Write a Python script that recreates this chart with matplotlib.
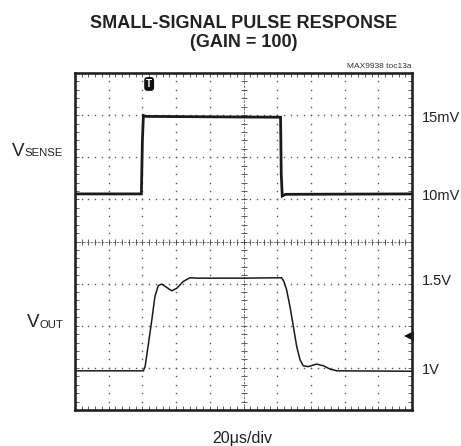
import numpy as np
import matplotlib
matplotlib.use("Agg")
import matplotlib.pyplot as plt

plt.rcParams['font.family'] = ['Liberation Sans', 'DejaVu Sans']

# ---------------------------------------------------------------------------
# Data (screen divisions: x 0..10 at 20us/div, y 0..8)
# ---------------------------------------------------------------------------
t_sense = [0, 1.97, 2.00, 2.03, 2.10, 4.0, 6.10, 6.12, 6.15, 6.25, 10]
v_sense = [5.13, 5.13, 6.40, 6.99, 6.97, 6.96, 6.95, 5.60, 5.08, 5.12, 5.13]

t_out = [0, 2.03, 2.08, 2.18, 2.28, 2.37, 2.47, 2.57, 2.72, 2.87, 3.02, 3.21,
         3.41, 3.61, 5.0, 6.13, 6.20, 6.28, 6.38, 6.48, 6.58, 6.68, 6.77,
         6.92, 7.17, 7.37, 7.57, 7.77, 10]
v_out = [0.93, 0.93, 1.03, 1.58, 2.14, 2.69, 2.95, 2.99, 2.91, 2.83, 2.89, 3.05,
         3.14, 3.13, 3.13, 3.14, 3.05, 2.85, 2.45, 1.98, 1.50, 1.19, 1.05,
         1.03, 1.09, 1.05, 0.97, 0.93, 0.92]

right_labels = ["15mV", "10mV", "1.5V", "1V"]
right_label_y = [122, 200.5, 285, 374]   # baselines, px from top

W, H = 461, 446

fig = plt.figure(figsize=(W / 100, H / 100), dpi=100)
ax = fig.add_axes([75 / W, 36 / H, 337 / W, 337 / H])
ax.set_xlim(0, 10)
ax.set_ylim(0, 8)

# frame + inner ticks
for sp in ax.spines.values():
    sp.set_linewidth(1.9)
    sp.set_color('#222222')
ax.set_xticks(np.arange(0, 10.01, 1))
ax.set_yticks(np.arange(0, 8.01, 1))
ax.set_xticks(np.arange(0, 10.01, 0.2), minor=True)
ax.set_yticks(np.arange(0, 8.01, 0.2), minor=True)
ax.tick_params(which='both', direction='in', length=3, width=0.6, color='#444444',
               top=True, right=True, labelbottom=False, labelleft=False)

# dotted graticule
dots_x = np.arange(0.2, 10, 0.2)
dots_y = np.arange(0.2, 8, 0.2)
for gy in range(1, 8):
    if gy == 4:
        continue
    ax.plot(dots_x, np.full_like(dots_x, gy), ls='none', marker='s', ms=1.0,
            color='#555555', mew=0)
for gx in range(1, 10):
    if gx == 5:
        continue
    ax.plot(np.full_like(dots_y, gx), dots_y, ls='none', marker='s', ms=1.0,
            color='#555555', mew=0)

# centre lines with cross ticks
ax.axhline(4, color='#666666', lw=0.6, ls=(0, (3, 1.5)))
ax.axvline(5, color='#666666', lw=0.6, ls=(0, (3, 1.5)))
ax.plot(dots_x, np.full_like(dots_x, 4), ls='none', marker='|', ms=4, mew=0.6,
        color='#444444')
ax.plot(np.full_like(dots_y, 5), dots_y, ls='none', marker='_', ms=4, mew=0.6,
        color='#444444')

# traces
ax.plot(t_sense, v_sense, color='#1a1a1a', lw=2.0, solid_joinstyle='miter')
ax.plot(t_out, v_out, color='#1a1a1a', lw=1.1)

# trigger marker and level marker
ax.text(2.2, 7.74, "T", ha='center', va='center', color='white', fontsize=7,
        fontweight='bold',
        bbox=dict(boxstyle='round,pad=0.2,rounding_size=0.35', fc='#111111', ec='none'))
ax.plot([9.9], [1.76], marker='<', ms=6.5, color='#111111', mew=0, clip_on=False)


def ftext(x, y, s, **kw):
    return fig.text(x / W, 1 - y / H, s, **kw)


ftext(243.5, 28.3, "SMALL-SIGNAL PULSE RESPONSE", ha='center', va='baseline',
      fontsize=13, fontweight='bold', color='#222222')
ftext(243.5, 47, "(GAIN = 100)", ha='center', va='baseline',
      fontsize=13, fontweight='bold', color='#222222')
ftext(411, 68.3, "MAX9938 toc13a", ha='right', va='baseline', fontsize=6,
      color='#333333')

# V with subscript: subscript right-aligned at the frame gap, V placed just before it
renderer = fig.canvas.get_renderer()
for sub, yb in [("SENSE", 155.5), ("OUT", 327)]:
    st = ftext(63, yb + 0.5, sub, ha='right', va='baseline', fontsize=8.2,
               color='#222222')
    x0 = st.get_window_extent(renderer).x0
    ftext(x0, yb, "V", ha='right', va='baseline', fontsize=13.5, color='#222222')

for lab, yb in zip(right_labels, right_label_y):
    ftext(422, yb, lab, ha='left', va='baseline', fontsize=10.5, color='#222222')

ftext(242.5, 443, "20\u03bcs/div", ha='center', va='baseline', fontsize=11.5,
      color='#222222')

fig.savefig("out.png", dpi=100)
